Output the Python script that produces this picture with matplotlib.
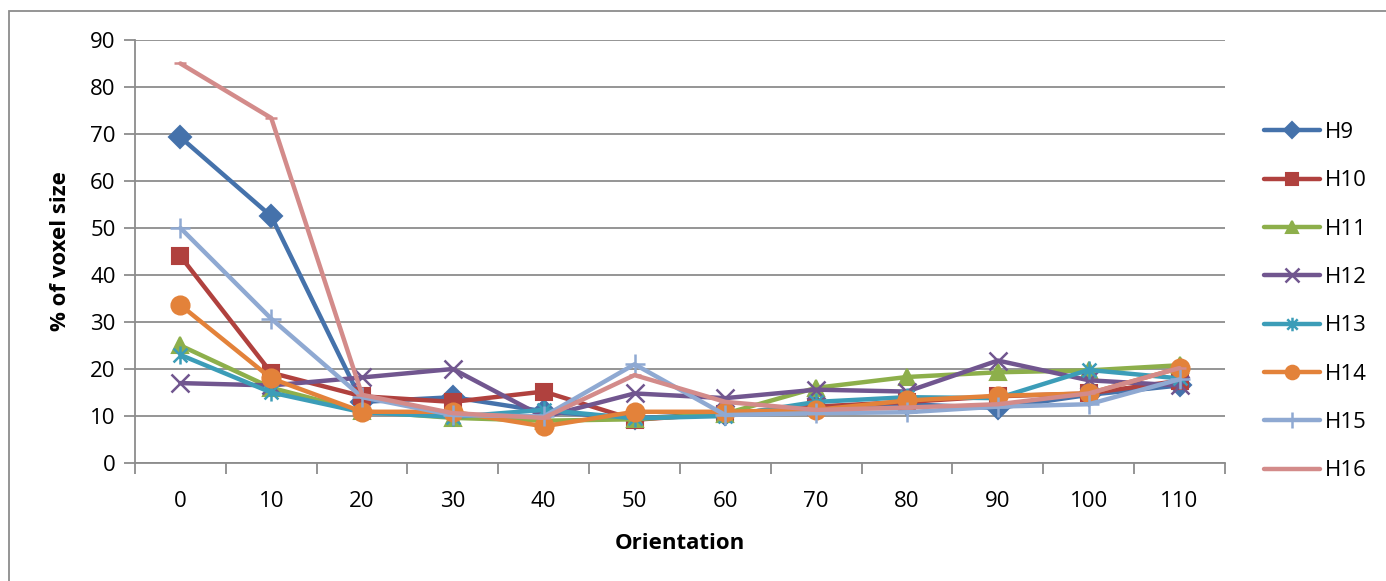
import matplotlib.pyplot as plt
from matplotlib.path import Path

# Data
orientation = [0, 10, 20, 30, 40, 50, 60, 70, 80, 90, 100, 110]
series_names = ['H9', 'H10', 'H11', 'H12', 'H13', 'H14', 'H15', 'H16']
h9 = [69.3, 52.5, 13.0, 14.0, 11.0, 9.5, 10.5, 12.0, 12.5, 11.7, 14.5, 16.5]
h10 = [44.0, 19.2, 14.2, 13.0, 15.2, 9.2, 10.5, 12.0, 13.0, 14.2, 14.8, 17.5]
h11 = [25.0, 16.0, 11.0, 9.6, 9.0, 9.3, 10.5, 16.0, 18.3, 19.3, 19.7, 20.8]
h12 = [17.0, 16.5, 18.2, 20.0, 9.8, 14.8, 13.8, 15.6, 15.2, 21.8, 17.6, 16.5]
h13 = [23.0, 15.0, 10.8, 9.8, 11.3, 9.5, 10.0, 13.0, 14.0, 13.8, 19.8, 18.0]
h14 = [33.6, 18.0, 10.9, 10.9, 7.8, 10.9, 10.9, 11.3, 13.3, 14.3, 14.8, 20.2]
h15 = [50.0, 30.7, 14.0, 10.2, 9.9, 21.0, 10.2, 10.6, 10.8, 12.0, 12.5, 17.8]
h16 = [85.0, 73.4, 14.5, 10.6, 9.6, 18.7, 13.0, 11.3, 11.8, 12.5, 14.8, 20.2]
values = [h9, h10, h11, h12, h13, h14, h15, h16]

colors = ['#4572AB', '#B0413E', '#8DAF4B', '#71568F', '#3C9DB8', '#E3823A',
          '#8FA9D2', '#D38B8A']

# Excel style asterisk: X with a vertical bar
star = Path([(-1, -1), (1, 1), (-1, 1), (1, -1), (0, -1.3), (0, 1.3)],
            [Path.MOVETO, Path.LINETO, Path.MOVETO, Path.LINETO,
             Path.MOVETO, Path.LINETO])
markers = ['D', 's', '^', 'x', star, 'o', '+', '_']
msizes = [11, 12, 12, 13, 13, 13, 15, 9]

plt.rcParams['font.family'] = ['Open Sans', 'DejaVu Sans']

fig = plt.figure(figsize=(13.86, 5.81), dpi=100)
ax = fig.add_axes([0.0974, 0.2031, 0.7864, 0.7281])

# outer chart border
fig.patches.append(plt.Rectangle((9 / 1386, -0.1), 1.2, (581 - 11) / 581 + 0.1,
                                 transform=fig.transFigure, fill=False,
                                 edgecolor='#8C8C8C', linewidth=1.3))

xpos = range(len(orientation))
for name, vals, c, m, ms in zip(series_names, values, colors, markers, msizes):
    filled = m in ('D', 's', '^', 'o')
    ax.plot(xpos, vals, color=c, linewidth=3.2, marker=m, markersize=ms,
            markeredgewidth=1.5 if filled else 1.8, markerfacecolor=c,
            markeredgecolor=c, label=name, solid_joinstyle='round',
            solid_capstyle='round')

ax.set_xlim(-0.5, len(orientation) - 0.5)
ax.set_ylim(0, 90)
ax.set_yticks(range(0, 91, 10))
ax.set_xticks(list(xpos))
ax.set_xticklabels([str(o) for o in orientation])
ax.set_xticks([i - 0.5 for i in range(len(orientation) + 1)], minor=True)

ax.grid(axis='y', color='#8C8C8C', linewidth=1.3)
ax.set_axisbelow(True)
for s in ['top', 'right']:
    ax.spines[s].set_visible(False)
for s in ['left', 'bottom']:
    ax.spines[s].set_color('#8C8C8C')
    ax.spines[s].set_linewidth(1.3)

ax.tick_params(axis='y', length=8, width=1.3, color='#8C8C8C', labelsize=16,
               pad=6)
ax.tick_params(axis='x', which='major', length=0, labelsize=16, pad=20)
ax.tick_params(axis='x', which='minor', length=8, width=1.3, color='#8C8C8C')

ax.set_xlabel('Orientation', fontsize=16, fontweight='bold', labelpad=15)
ax.set_ylabel('% of voxel size', fontsize=16, fontweight='bold', labelpad=14)

ax.legend(loc='upper left', bbox_to_anchor=(1.036, 0.806), frameon=False,
          fontsize=16, handlelength=2.5, handletextpad=0.25, labelspacing=1.23,
          markerscale=0.75, borderaxespad=0, borderpad=0)

fig.savefig('out.png', dpi=100)
